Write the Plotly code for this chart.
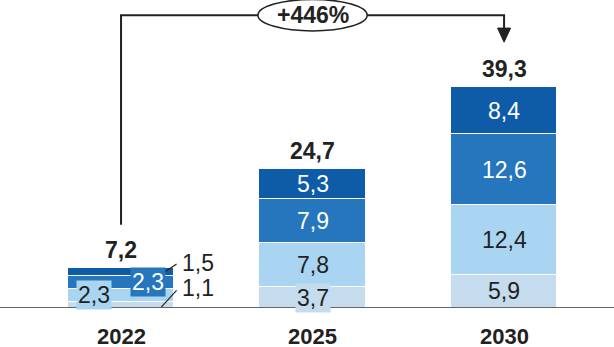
import plotly.graph_objects as go

# Market volume by segment, stacked per year
years = ["2022", "2025", "2030"]
seg_bottom = [1.1, 3.7, 5.9]
seg_light = [2.3, 7.8, 12.4]
seg_mid = [2.3, 7.9, 12.6]
seg_dark = [1.5, 5.3, 8.4]
totals = [7.2, 24.7, 39.3]
growth_label = "+446%"

segments = [seg_bottom, seg_light, seg_mid, seg_dark]
colors = ["#c4dcee", "#a9d5f2", "#2676bd", "#0e5ca8"]
text_colors = ["#222222", "#222222", "#ffffff", "#ffffff"]

FONT = "Liberation Sans, Arial, sans-serif"
FS = 23
x = list(range(len(years)))

fig = go.Figure()
for vals, col in zip(segments, colors):
    fig.add_trace(go.Bar(
        x=x, y=vals, width=0.555, marker=dict(color=col, line=dict(color="white", width=1.5)),
        hoverinfo="skip", showlegend=False,
    ))

annotations = []
shapes = []

# cumulative segment midpoints
mids = []
for i in range(len(years)):
    base = 0
    col_mids = []
    for s in segments:
        col_mids.append(base + s[i] / 2)
        base += s[i]
    mids.append(col_mids)

def fmt(v):
    return f"{v:.1f}".replace(".", ",")

# labels inside the two larger bars
for i in (1, 2):
    for k, s in enumerate(segments):
        kw = {}
        if i == 1 and k == 0:
            kw = dict(bgcolor=colors[0], borderpad=1)
        annotations.append(dict(
            x=x[i], y=mids[i][k], text=fmt(s[i]), showarrow=False,
            font=dict(family=FONT, size=FS, color=text_colors[k]), **kw))

# 2022: small bar, labels with boxes and leader lines
annotations.append(dict(x=x[0] - 0.14, y=mids[0][1], text=fmt(seg_light[0]), showarrow=False,
                        bgcolor=colors[1], borderpad=1,
                        font=dict(family=FONT, size=FS, color=text_colors[1])))
annotations.append(dict(x=x[0] + 0.14, y=mids[0][2], text=fmt(seg_mid[0]), showarrow=False,
                        bgcolor=colors[2], borderpad=1,
                        font=dict(family=FONT, size=FS, color=text_colors[2])))
annotations.append(dict(x=x[0] + 0.40, y=mids[0][3] + 1.6, text=fmt(seg_dark[0]), showarrow=False,
                        font=dict(family=FONT, size=FS, color="#222222")))
annotations.append(dict(x=x[0] + 0.40, y=mids[0][0] + 3.0, text=fmt(seg_bottom[0]), showarrow=False,
                        font=dict(family=FONT, size=FS, color="#222222")))
shapes.append(dict(type="line", xref="x", yref="y", x0=x[0] + 0.23, y0=mids[0][3],
                   x1=x[0] + 0.29, y1=mids[0][3] + 1.4, line=dict(color="#222222", width=1.2)))
shapes.append(dict(type="line", xref="x", yref="y", x0=x[0] + 0.21, y0=mids[0][0] - 0.4,
                   x1=x[0] + 0.29, y1=mids[0][0] + 2.6, line=dict(color="#222222", width=1.2)))

# totals above bars
for i, t in enumerate(totals):
    annotations.append(dict(x=x[i], y=t, text=f"<b>{fmt(t)}</b>", showarrow=False,
                            yanchor="bottom", yshift=3,
                            font=dict(family=FONT, size=FS, color="#222222")))

# year labels below the baseline
for i, yr in enumerate(years):
    annotations.append(dict(x=x[i], y=0, text=f"<b>{yr}</b>", showarrow=False,
                            yanchor="top", yshift=-15, height=22, valign="middle",
                            font=dict(family=FONT, size=22, color="#222222")))

# baseline
shapes.append(dict(type="line", xref="paper", yref="y", x0=0, x1=1, y0=0, y1=0,
                   line=dict(color="#333333", width=1.5)))

# growth connector from first to last bar
y_top = 52.1
y_start = totals[0] + 7.6
y_end = totals[-1] + 10.2
shapes.append(dict(type="path", xref="x", yref="y",
                   path=f"M {x[0]},{y_start} L {x[0]},{y_top} L {x[-1]},{y_top} L {x[-1]},{y_end}",
                   line=dict(color="#222222", width=2)))
shapes.append(dict(type="path", xref="x", yref="y",
                   path=f"M {x[-1]-0.034},{y_end+0.3} L {x[-1]+0.034},{y_end+0.3} L {x[-1]},{y_end-2.2} Z",
                   fillcolor="#222222", line=dict(color="#222222", width=1)))
shapes.append(dict(type="circle", xref="x", yref="y", x0=0.715, x1=1.285, y0=y_top - 2.8,
                   y1=y_top + 2.8, fillcolor="white", line=dict(color="#222222", width=1.5)))
annotations.append(dict(x=1.0, y=y_top, text=f"<b>{growth_label}</b>", showarrow=False,
                        font=dict(family=FONT, size=FS, color="#222222")))

fig.update_layout(
    width=614, height=347, barmode="stack", bargap=0,
    margin=dict(l=0, r=0, t=0, b=39),
    paper_bgcolor="white", plot_bgcolor="white",
    xaxis=dict(range=[-0.632, 2.574], visible=False, fixedrange=True),
    yaxis=dict(range=[0, 54.8], visible=False, fixedrange=True),
    annotations=annotations, shapes=shapes,
)

fig.write_html("out.html")
